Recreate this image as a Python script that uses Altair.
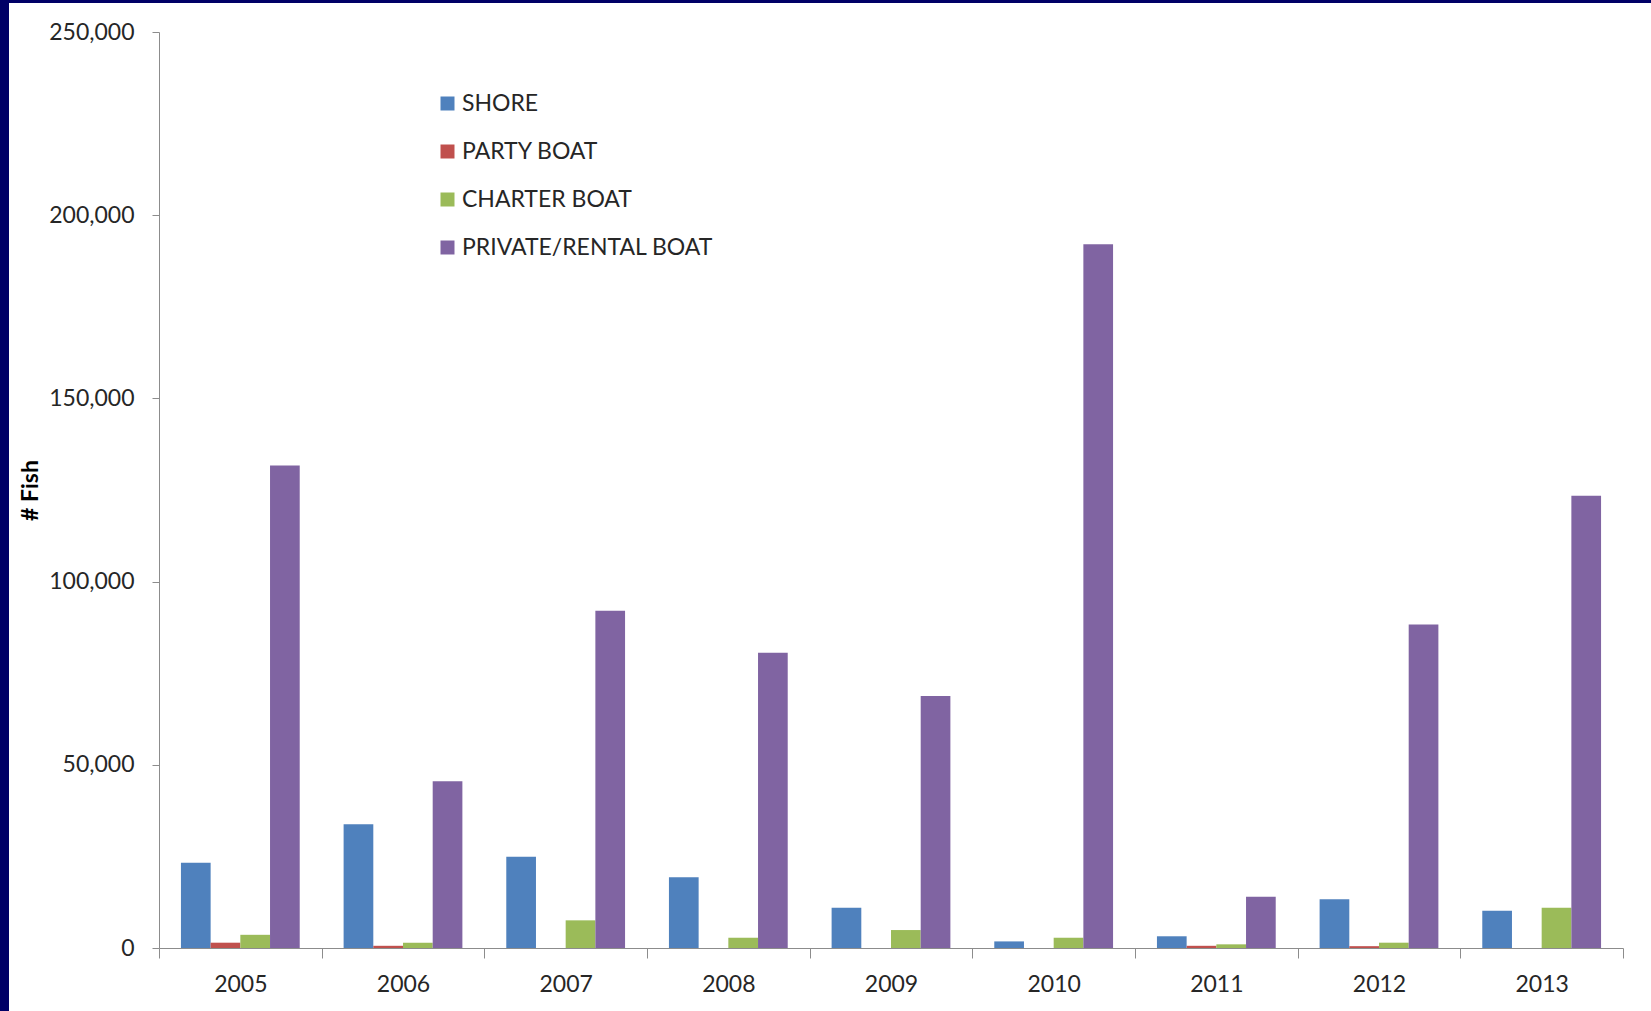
import altair as alt
import pandas as pd

years = ["2005", "2006", "2007", "2008", "2009", "2010", "2011", "2012", "2013"]
series = ["SHORE", "PARTY BOAT", "CHARTER BOAT", "PRIVATE/RENTAL BOAT"]
colors = ["#4F81BD", "#C0504D", "#9BBB59", "#8064A2"]

shore = [23300, 33800, 24900, 19300, 11000, 1800, 3200, 13300, 10200]
party = [1450, 600, 0, 0, 0, 0, 600, 500, 0]
charter = [3600, 1450, 7550, 2800, 4900, 2800, 1000, 1450, 11000]
private = [131700, 45500, 92050, 80560, 68800, 192050, 14000, 88300, 123400]

y_ticks = [0, 50000, 100000, 150000, 200000, 250000]

rows = []
for s, vals in zip(series, [shore, party, charter, private]):
    for yr, v in zip(years, vals):
        rows.append({"year": yr, "series": s, "fish": v})
df = pd.DataFrame(rows)

W, H = 1464, 916
FONT = "Lato"

bars = alt.Chart(df).mark_bar().encode(
    x=alt.X(
        "year:N", sort=years, title=None,
        scale=alt.Scale(paddingInner=0, paddingOuter=0),
        axis=alt.Axis(labelAngle=0, tickBand="extent", tickSize=10, labelPadding=15,
                      labelFontSize=23, labelFont=FONT, labelColor="#262626",
                      domainColor="#8c8c8c", tickColor="#8c8c8c", zindex=1),
    ),
    xOffset=alt.XOffset("series:N", sort=series,
                        scale=alt.Scale(paddingInner=0, paddingOuter=0.739)),
    y=alt.Y(
        "fish:Q",
        scale=alt.Scale(domain=[0, 250000], nice=False),
        axis=alt.Axis(values=y_ticks, format=",d", tickSize=7, labelPadding=18, grid=False,
                      labelFontSize=23, labelFont=FONT, labelColor="#262626",
                      domainColor="#8c8c8c", tickColor="#8c8c8c",
                      title="# Fish", titleFont=FONT, titleFontWeight="bold", titleFontSize=23,
                      titleColor="#000000", titleX=-129, titleAngle=270,
                      titleAlign="center", titleBaseline="middle", zindex=1),
    ),
    color=alt.Color(
        "series:N", sort=series,
        scale=alt.Scale(domain=series, range=colors),
        legend=alt.Legend(title=None, orient="none", legendX=277, legendY=60,
                          symbolType="square", symbolSize=196, symbolStrokeWidth=0,
                          labelFontSize=23, labelFont=FONT, labelColor="#262626",
                          labelLimit=0, rowPadding=24, labelOffset=3, padding=0),
    ),
)

left_border = alt.Chart(alt.Data(values=[{}])).mark_rect(color="#000066").encode(
    x=alt.value(-159), x2=alt.value(-150), y=alt.value(-32), y2=alt.value(H + 63)
)
top_border = alt.Chart(alt.Data(values=[{}])).mark_rect(color="#000066").encode(
    x=alt.value(-159), x2=alt.value(W + 28), y=alt.value(-32), y2=alt.value(-29)
)

chart = alt.layer(bars, left_border, top_border).properties(
    width=W, height=H,
    background="white",
    padding={"left": 159, "top": 32, "right": 28, "bottom": 63},
    autosize=alt.AutoSizeParams(type="none"),
).configure_view(stroke=None, strokeWidth=0)

chart.save("out.html", embed_options={"renderer": "svg", "actions": False})
